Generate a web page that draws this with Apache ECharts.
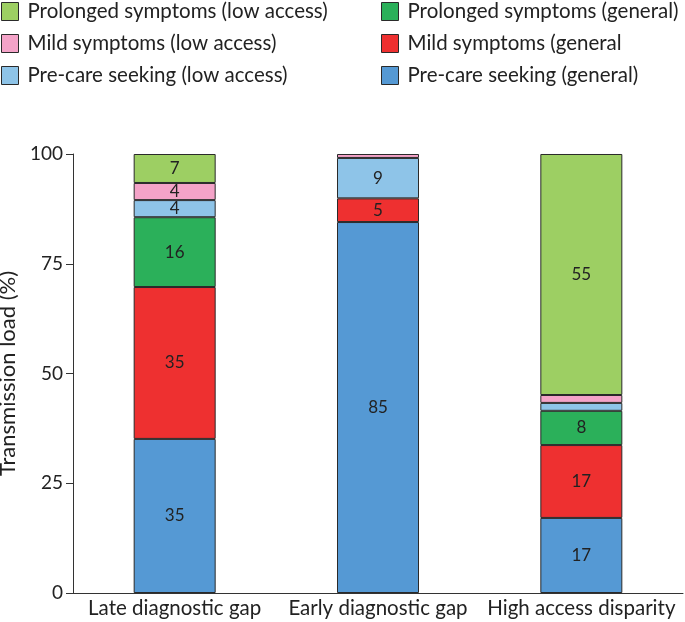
<!DOCTYPE html>
<html><head><meta charset="utf-8">
<script src="https://cdn.jsdelivr.net/npm/echarts@6/dist/echarts.min.js"></script>
<style>html,body{margin:0;padding:0;background:#fff}#c{width:685px;height:622px}</style>
</head><body><div id="c"></div>
<script>
const categories = ['Late diagnostic gap', 'Early diagnostic gap', 'High access disparity'];
const preGeneral = [35.1, 84.5, 17.1];
const mildGeneral = [34.6, 5.4, 16.6];
const prolongedGeneral = [15.9, 0, 7.8];
const preLow = [3.9, 9.2, 1.8];
const mildLow = [3.9, 0.9, 1.8];
const prolongedLow = [6.6, 0, 54.9];
const yTicks = [0, 25, 50, 75, 100];

const names = {
  pg: 'Pre-care seeking (general)', mg: 'Mild symptoms (general', prg: 'Prolonged symptoms (general)',
  pl: 'Pre-care seeking (low access)', ml: 'Mild symptoms (low access)', prl: 'Prolonged symptoms (low access)'
};
const colors = {pg:'#5599d4', mg:'#ee3030', prg:'#2bb05a', pl:'#8ec4e8', ml:'#f4a3c8', prl:'#9dcf63'};
const font = 'Lato';
function mk(key, data){
  return {
    name: names[key], type: 'bar', stack: 'a', data: data.map(v => v === 0 ? '-' : v), barWidth: 82,
    itemStyle: {color: colors[key], borderColor: '#2a2a2a', borderWidth: 1},
    label: {show: true, position: 'inside', color: '#222', fontSize: 17, fontFamily: font,
      formatter: p => p.value >= 2.5 ? String(Math.round(p.value)) : ''}
  };
}
const chart = echarts.init(document.getElementById('c'));
const legendCommon = {orient: 'vertical', itemWidth: 17, itemHeight: 18, itemGap: 11,
  icon: 'rect', textStyle: {fontSize: 20.5, fontFamily: font, color: '#222', padding: [0, 0, 0, 4]},
  itemStyle: {borderColor: '#2a2a2a', borderWidth: 1}, selectedMode: false};
chart.setOption({
  animation: false,
  legend: [
    Object.assign({left: -4, top: -4, data: [names.prl, names.ml, names.pl]}, legendCommon),
    Object.assign({left: 376, top: -4, data: [names.prg, names.mg, names.pg]}, legendCommon)
  ],
  grid: {left: 73, right: 2, top: 154, bottom: 29, containLabel: false, outerBoundsMode: 'none'},
  xAxis: {type: 'category', data: categories,
    axisLine: {lineStyle: {color: '#333', width: 1}}, axisTick: {show: false},
    axisLabel: {interval: 0, fontSize: 20.5, fontFamily: font, color: '#222', margin: 5}},
  yAxis: {type: 'value', min: 0, max: 100, interval: 25, name: 'Transmission load (%)',
    nameLocation: 'middle', nameGap: 41, nameTextStyle: {fontSize: 22, fontFamily: font, color: '#222'},
    axisLine: {show: true, lineStyle: {color: '#333', width: 1}},
    axisTick: {show: true, length: 7, lineStyle: {color: '#333'}},
    splitLine: {show: false},
    axisLabel: {fontSize: 19, fontFamily: font, color: '#222', margin: 10,
      formatter: v => yTicks.includes(v) ? String(v) : ''}},
  series: [mk('pg', preGeneral), mk('mg', mildGeneral), mk('prg', prolongedGeneral),
           mk('pl', preLow), mk('ml', mildLow), mk('prl', prolongedLow)]
});
</script></body></html>
